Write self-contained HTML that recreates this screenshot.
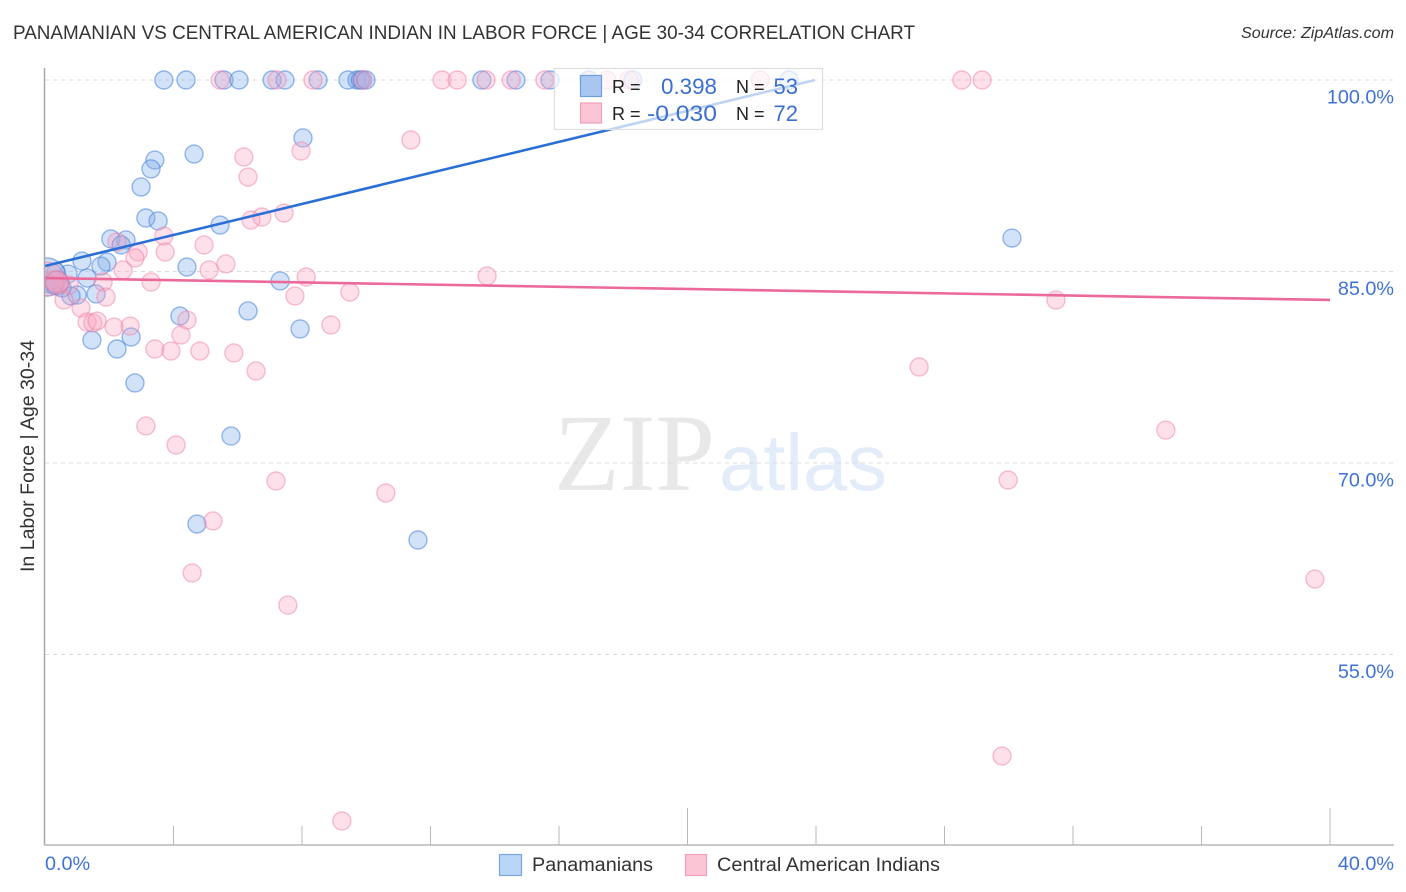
<!DOCTYPE html>
<html lang="en">
<head>
<meta charset="utf-8">
<title>Panamanian vs Central American Indian in Labor Force</title>
<style>
html,body{margin:0;padding:0;background:#fff;}
body{width:1406px;height:892px;overflow:hidden;font-family:"Liberation Sans",sans-serif;}
svg{display:block;}
text{font-family:"Liberation Sans",sans-serif;}
</style>
</head>
<body>
<svg id="chart" xmlns="http://www.w3.org/2000/svg" width="1406" height="892" viewBox="0 0 1406 892">
  <defs>
    <clipPath id="plot-clip"><rect x="45" y="60" width="1349" height="785"/></clipPath>
  </defs>
  <rect x="0" y="0" width="1406" height="892" fill="#fff"/>
  <text x="13" y="39" font-size="19.5" fill="#333" textLength="902" lengthAdjust="spacingAndGlyphs">PANAMANIAN VS CENTRAL AMERICAN INDIAN IN LABOR FORCE | AGE 30-34 CORRELATION CHART</text>
  <text x="1394" y="38" font-size="15.5" font-style="italic" fill="#333" text-anchor="end" textLength="153" lengthAdjust="spacingAndGlyphs">Source: ZipAtlas.com</text>
  <text x="554" y="490" font-size="110" fill="#e8e8e8" style="font-family:'Liberation Serif',serif" textLength="161" lengthAdjust="spacingAndGlyphs">ZIP</text>
  <text x="719" y="490" font-size="80" fill="#e3ecf9" textLength="168" lengthAdjust="spacingAndGlyphs">atlas</text>
  <g id="grid"></g>
  <g id="points" clip-path="url(#plot-clip)"></g>
  <g id="lines"></g>
  <g id="axes"></g>

  <g>
    <rect x="554.5" y="68.5" width="268" height="61" fill="#fff" fill-opacity="0.7" stroke="#dedede" stroke-width="1.2"/>
    <rect x="580.5" y="75.5" width="21" height="21" fill="#a9c6f0" stroke="#6f9fe0" stroke-width="1.2"/>
    <rect x="580.5" y="103" width="21" height="20" fill="#fcc5d6" stroke="#f0a0bc" stroke-width="1.2"/>
    <text x="612" y="93" font-size="18" fill="#222">R =</text>
    <text x="661" y="94" font-size="22" fill="#3a6fd0" textLength="56" lengthAdjust="spacingAndGlyphs">0.398</text>
    <text x="736" y="93" font-size="18" fill="#222">N =</text>
    <text x="798" y="94" font-size="22" fill="#3a6fd0" text-anchor="end">53</text>
    <text x="612" y="120" font-size="18" fill="#222">R =</text>
    <text x="647" y="121" font-size="22" fill="#3a6fd0" textLength="70" lengthAdjust="spacingAndGlyphs">-0.030</text>
    <text x="736" y="120" font-size="18" fill="#222">N =</text>
    <text x="798" y="121" font-size="22" fill="#3a6fd0" text-anchor="end">72</text>
  </g>

  <text transform="translate(34,456) rotate(-90)" font-size="19" fill="#333" text-anchor="middle" textLength="232" lengthAdjust="spacingAndGlyphs">In Labor Force | Age 30-34</text>

  <g>
    <rect x="499.5" y="854.5" width="22" height="21" fill="#b9d5f7" stroke="#7ba6e2" stroke-width="1.2"/>
    <text x="532" y="871" font-size="19" fill="#333" textLength="121" lengthAdjust="spacingAndGlyphs">Panamanians</text>
    <rect x="685.5" y="854.5" width="21" height="21" fill="#fcc5d6" stroke="#f0a0bc" stroke-width="1.2"/>
    <text x="717" y="871" font-size="19" fill="#333" textLength="223" lengthAdjust="spacingAndGlyphs">Central American Indians</text>
  </g>
</svg>
<script>
const yTickValues = [100, 85, 70, 55];
const yTickLabels = ["100.0%", "85.0%", "70.0%", "55.0%"];
const xTickValues = [4, 8, 12, 16, 20, 24, 28, 32, 36, 40];
const xMajorTicks = [20, 40];
const xEdgeLabels = ["0.0%", "40.0%"];

const panamanianX = [3.70,4.39,5.57,6.04,7.07,7.47,8.50,9.43,9.71,9.81,9.87,9.99,13.60,14.66,15.72,16.93,18.30,23.16,
  8.03,4.64,3.42,3.30,2.99,3.14,3.52,5.45,2.05,2.52,2.37,30.10,1.15,1.93,1.74,4.42,1.31,0.72,7.32,1.59,1.00,0.81,
  6.32,4.20,7.94,1.46,2.68,2.24,2.80,5.79,4.73,11.61,0.16,0.31,0.53,0.34];
const panamanianY = [100,100,100,100,100,100,100,100,100,100,100,100,100,100,100,100,100,100,
  95.46,94.20,93.73,93.03,91.62,89.19,88.96,88.64,87.55,87.47,87.08,87.62,85.82,85.74,85.43,85.35,84.49,84.80,84.26,83.24,83.16,83.08,
  81.91,81.51,80.50,79.63,79.87,78.93,76.27,72.11,65.22,63.97,84.02,83.94,83.71,84.96];

const centralAmericanX = [5.45,7.22,8.34,9.90,12.36,12.83,13.73,14.51,15.56,17.49,18.18,22.26,28.54,29.17,
  11.39,7.97,6.19,6.32,7.44,6.75,6.41,3.70,4.95,2.24,2.90,2.80,3.74,5.63,2.43,5.11,8.13,13.76,3.30,1.81,7.78,9.49,1.90,0.59,1.12,31.47,
  1.31,1.49,1.62,2.15,2.65,4.42,8.90,4.23,3.42,3.92,4.82,5.88,6.57,27.21,3.14,4.08,34.89,7.19,29.98,10.61,5.23,4.58,39.53,7.56,29.79,9.24,
  0.75,0.47,0.22];
const centralAmericanY = [100,100,100,100,100,100,100,100,100,100,100,100,100,100,
  95.30,94.44,93.97,92.40,89.58,89.27,89.03,87.78,87.08,87.31,86.53,86.06,86.53,85.59,85.12,85.12,84.57,84.65,84.18,84.18,83.08,83.39,83.00,82.77,82.14,82.77,
  81.04,80.97,81.12,80.65,80.73,81.20,80.81,80.03,78.93,78.77,78.77,78.62,77.21,77.52,72.90,71.41,72.58,68.59,68.67,67.65,65.46,61.39,60.91,58.87,47.05,41.96,
  83.94,84.10,84.33];

const panamanianClusterX = [0.06, 0.37];
const panamanianClusterY = [84.57, 84.10];
const centralAmericanClusterX = [0.06, 0.37];
const centralAmericanClusterY = [84.41, 84.18];

const panamanianTrendX = [0, 23.97];
const panamanianTrendY = [85.43, 100];
const centralAmericanTrendX = [0, 40];
const centralAmericanTrendY = [84.49, 82.77];

const NS = "http://www.w3.org/2000/svg";
const xScale = v => 45 + v * 32.125;
const yScale = v => 80 + (100 - v) * 12.767;
const AXIS_Y = 845;

function make(tag, attrs, parent) {
  const el = document.createElementNS(NS, tag);
  for (const k in attrs) el.setAttribute(k, attrs[k]);
  parent.appendChild(el);
  return el;
}

const gridG = document.getElementById("grid");
const axesG = document.getElementById("axes");
const pointsG = document.getElementById("points");
const linesG = document.getElementById("lines");

yTickValues.forEach((v, i) => {
  const line = make("line", {x1: 45, x2: 1394, y1: yScale(v), y2: yScale(v), stroke: "#dcdcdc", "stroke-width": 1, "stroke-dasharray": "4 4"}, gridG);
  
  
  const label = make("text", {x: 1394, y: yScale(v) + 23.5, "font-size": 19.8, fill: "#3f72d4", "text-anchor": "end"}, axesG);
  label.textContent = yTickLabels[i];
  
  
});

const yAxis = make("line", {x1: 44.5, x2: 44.5, y1: 68, y2: AXIS_Y, stroke: "#a8a8a8", "stroke-width": 1.5}, axesG);


const xAxis = make("line", {x1: 44, x2: 1394, y1: AXIS_Y, y2: AXIS_Y, stroke: "#b8b8b8", "stroke-width": 1.5}, axesG);



xTickValues.forEach(v => {
  const top = xMajorTicks.includes(v) ? 808 : 826;
  const tick = make("line", {x1: xScale(v), x2: xScale(v), y1: top, y2: AXIS_Y, stroke: "#b8b8b8", "stroke-width": 1}, axesG);
  
  
});

const xLabelLeft = make("text", {x: 45, y: 870, "font-size": 19.8, fill: "#3f72d4"}, axesG);
xLabelLeft.textContent = xEdgeLabels[0];


const xLabelRight = make("text", {x: 1394, y: 870, "font-size": 19.8, fill: "#3f72d4", "text-anchor": "end"}, axesG);
xLabelRight.textContent = xEdgeLabels[1];



const BLUE = {fill: "rgba(130,175,235,0.36)", stroke: "rgba(70,130,220,0.55)"};
const PINK = {fill: "rgba(250,165,192,0.34)", stroke: "rgba(238,125,165,0.48)"};

drawSeries(panamanianX, panamanianY, BLUE, 9, 'panamanian-point');
drawSeries(panamanianClusterX.slice(0, 1), panamanianClusterY.slice(0, 1), BLUE, 19, 'panamanian-cluster-point');
drawSeries(panamanianClusterX.slice(1), panamanianClusterY.slice(1), BLUE, 12, 'panamanian-cluster-point');
drawSeries(centralAmericanX, centralAmericanY, PINK, 9, 'central-american-indian-point');
drawSeries(centralAmericanClusterX.slice(0, 1), centralAmericanClusterY.slice(0, 1), PINK, 17, 'central-american-indian-cluster-point');
drawSeries(centralAmericanClusterX.slice(1), centralAmericanClusterY.slice(1), PINK, 11, 'central-american-indian-cluster-point');

function drawSeries(xs, ys, style, r, name) {
  xs.forEach((x, i) => {
    const c = make("circle", {cx: xScale(x), cy: yScale(ys[i]), r: r, fill: style.fill, stroke: style.stroke, "stroke-width": 1.4}, pointsG);
    
    
  });
}

const blueLine = make("line", {x1: xScale(panamanianTrendX[0]), y1: yScale(panamanianTrendY[0]), x2: xScale(panamanianTrendX[1]), y2: yScale(panamanianTrendY[1]), stroke: "#2a6fd6", "stroke-width": 2.6}, linesG);


const pinkLine = make("line", {x1: xScale(centralAmericanTrendX[0]), y1: yScale(centralAmericanTrendY[0]), x2: xScale(centralAmericanTrendX[1]), y2: yScale(centralAmericanTrendY[1]), stroke: "#ec6a9b", "stroke-width": 2.6}, linesG);


</script>
</body>
</html>
